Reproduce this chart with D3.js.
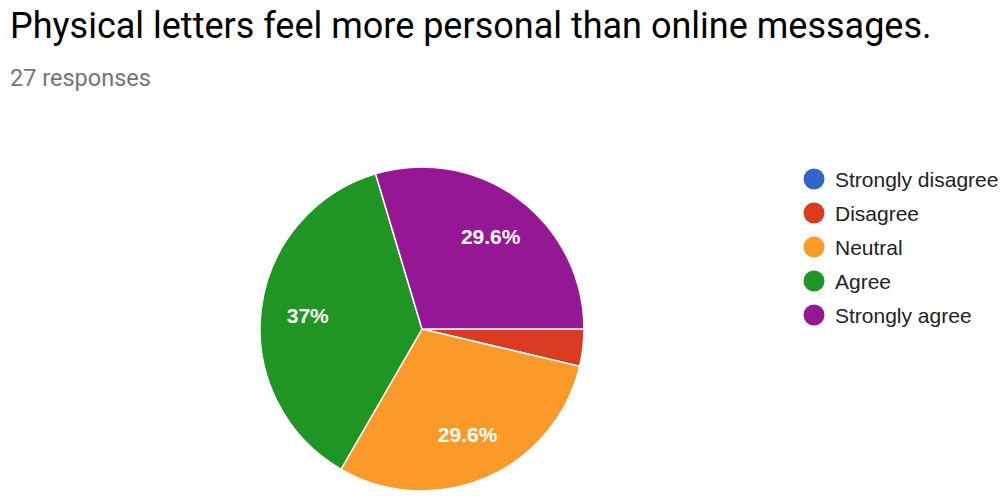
<!DOCTYPE html>
<html><head><meta charset="utf-8">
<script src="https://cdn.jsdelivr.net/npm/d3@7"></script>
<style>body{margin:0;background:#fff}svg{display:block}</style>
</head><body>
<svg id="c" width="1008" height="504"></svg>
<script>
const categories = ["Strongly disagree","Disagree","Neutral","Agree","Strongly agree"];
const counts = [0,1,8,10,8];
const colors = ["#3366cc","#da3b21","#fb9a28","#1f9524","#951795"];
const title = "Physical letters feel more personal than online messages.";
const subtitle = "27 responses";

const svg = d3.select("#c");
const W=1008,H=504;
svg.append("rect").attr("width",W).attr("height",H).attr("fill","#fff");
svg.append("text").attr("x",10).attr("y",38).attr("font-family","Roboto").attr("font-size",36)
  .attr("fill","#000").text(title);
svg.append("text").attr("x",10).attr("y",86).attr("font-family","Roboto").attr("font-size",23.5)
  .attr("fill","#757575").text(subtitle);

const cx=422, cy=329, r=162;
const total=d3.sum(counts);
const data=categories.map((c,i)=>({c,v:counts[i],color:colors[i]}));
const pie=d3.pie().value(d=>d.v).sort(null).startAngle(Math.PI/2).endAngle(Math.PI/2+2*Math.PI);
const arcs=pie(data);
const arc=d3.arc().innerRadius(0).outerRadius(r);
const labelArc=d3.arc().innerRadius(115).outerRadius(115);
const g=svg.append("g").attr("transform",`translate(${cx},${cy})`);
g.selectAll("path").data(arcs.filter(d=>d.data.v>0)).join("path")
  .attr("d",arc).attr("fill",d=>d.data.color).attr("stroke","#fff").attr("stroke-width",1.5);
const fmt=v=>{const p=Math.round(v/total*1000)/10;return p+"%";};
g.selectAll("text").data(arcs.filter(d=>d.data.v/total>0.05)).join("text")
  .attr("transform",d=>`translate(${labelArc.centroid(d)})`)
  .attr("text-anchor","middle").attr("dy","0.36em")
  .attr("font-family","Liberation Sans, Arial").attr("font-weight","bold").attr("font-size",21)
  .attr("fill","#fff").text(d=>fmt(d.data.v));

const lg=svg.append("g");
const rows=lg.selectAll("g").data(data).join("g").attr("transform",(d,i)=>`translate(814,${179+i*34})`);
rows.append("circle").attr("r",10.5).attr("fill",d=>d.color);
rows.append("text").attr("x",21).attr("dy","0.36em").attr("font-family","Liberation Sans, Arial")
  .attr("font-size",21).attr("fill","#222").text(d=>d.c);
</script>
</body></html>
